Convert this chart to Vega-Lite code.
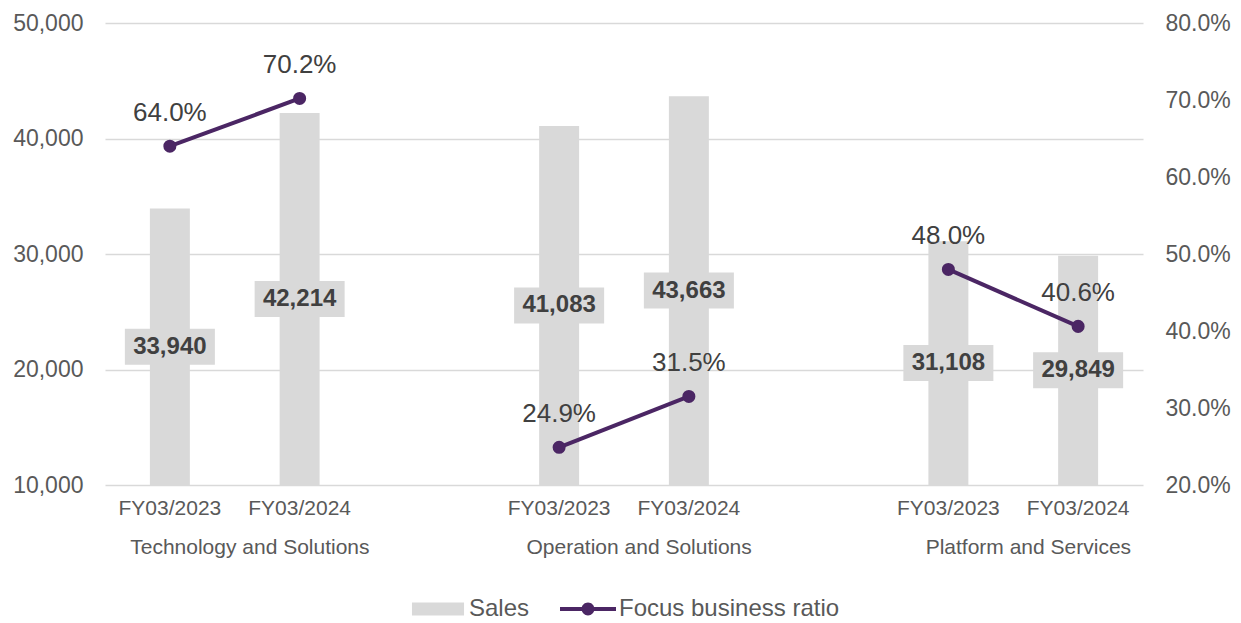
{
  "$schema": "https://vega.github.io/schema/vega-lite/v6.json",
  "width": 1038,
  "height": 462,
  "autosize": "none",
  "padding": {"left": 105, "top": 23, "right": 98, "bottom": 138},
  "background": "white",
  "config": {"view": {"stroke": null}, "font": "Liberation Sans"},
  "data": {
    "values": [
      {"segment": "Technology and Solutions", "year": "FY03/2023", "sales": 33940, "ratio": 0.640},
      {"segment": "Technology and Solutions", "year": "FY03/2024", "sales": 42214, "ratio": 0.702},
      {"segment": "Operation and Solutions", "year": "FY03/2023", "sales": 41083, "ratio": 0.249},
      {"segment": "Operation and Solutions", "year": "FY03/2024", "sales": 43663, "ratio": 0.315},
      {"segment": "Platform and Services", "year": "FY03/2023", "sales": 31108, "ratio": 0.480},
      {"segment": "Platform and Services", "year": "FY03/2024", "sales": 29849, "ratio": 0.406}
    ]
  },
  "transform": [
    {"calculate": "datum.segment + '|' + datum.year", "as": "slot"},
    {"calculate": "(datum.sales + 10000) / 2", "as": "mid"}
  ],
  "encoding": {
    "x": {
      "field": "slot",
      "type": "nominal",
      "sort": null,
      "scale": {
        "domain": [
          "Technology and Solutions|FY03/2023",
          "Technology and Solutions|FY03/2024",
          "gap1",
          "Operation and Solutions|FY03/2023",
          "Operation and Solutions|FY03/2024",
          "gap2",
          "Platform and Services|FY03/2023",
          "Platform and Services|FY03/2024"
        ],
        "paddingInner": 0.692,
        "paddingOuter": 0.346
      },
      "axis": {
        "title": null,
        "labelAngle": 0,
        "labelExpr": "indexof(datum.value, '|') >= 0 ? split(datum.value, '|')[1] : ''",
        "labelFontSize": 21,
        "labelColor": "#595959",
        "labelFont": "Liberation Sans",
        "labelPadding": 12,
        "ticks": false,
        "domain": false,
        "grid": false
      }
    }
  },
  "layer": [
    {
      "layer": [
        {
          "mark": {"type": "bar"},
          "encoding": {
            "y": {
              "field": "sales",
              "type": "quantitative",
              "scale": {"domain": [10000, 50000], "zero": false, "nice": false},
              "axis": {
                "title": null,
                "values": [10000, 20000, 30000, 40000, 50000],
                "labelExpr": "format(datum.value, ',d')",
                "grid": true,
                "gridColor": "#d9d9d9",
                "gridWidth": 1.5,
                "ticks": false,
                "domain": false,
                "labelFontSize": 23,
                "labelColor": "#595959",
                "labelFont": "Liberation Sans",
                "labelPadding": 22
              }
            },
            "y2": {"datum": 10000},
            "color": {
              "datum": "Sales",
              "scale": {"domain": ["Sales", "Focus business ratio"], "range": ["#d9d9d9", "#4b2664"]},
              "legend": {
                "title": null,
                "orient": "none",
                "direction": "horizontal",
                "legendX": 305,
                "legendY": 558,
                "symbolSize": 3136,
                "labelFontSize": 24,
                "labelColor": "#595959",
                "labelFont": "Liberation Sans",
                "labelOffset": 3,
                "labelLimit": 500,
                "columnPadding": 30,
                "encode": {
                  "symbols": {
                    "update": {
                      "shape": {"signal": "datum.value === 'Sales' ? 'M-0.93,-0.23H0.93V0.23H-0.93Z' : 'M-1,-0.07H1V0.07H-1Z M-0.23,0A0.23,0.23 0 1,1 0.23,0A0.23,0.23 0 1,1 -0.23,0Z'"},
                      "fill": {"signal": "datum.value === 'Sales' ? '#d9d9d9' : '#4b2664'"},
                      "stroke": {"value": "transparent"},
                      "strokeWidth": {"value": 0},
                      "opacity": {"value": 1},
                      "fillOpacity": {"value": 1}
                    }
                  }
                }
              }
            }
          }
        },
        {
          "mark": {"type": "point", "shape": "M-1,-0.4H1V0.4H-1Z", "size": 8100, "filled": true, "color": "#d9d9d9", "opacity": 1, "strokeWidth": 0},
          "encoding": {
            "y": {"field": "mid", "type": "quantitative"}
          }
        },
        {
          "mark": {"type": "text", "fontSize": 24, "fontWeight": "bold", "color": "#404040", "font": "Liberation Sans", "baseline": "middle"},
          "encoding": {
            "y": {"field": "mid", "type": "quantitative"},
            "text": {"field": "sales", "type": "quantitative", "format": ","}
          }
        },
        {
          "transform": [{"filter": "datum.year === 'FY03/2023'"}],
          "mark": {"type": "text", "fontSize": 21, "color": "#595959", "font": "Liberation Sans", "baseline": "middle", "dx": 80, "dy": 63},
          "encoding": {
            "y": {"datum": 10000},
            "text": {"field": "segment", "type": "nominal"}
          }
        }
      ]
    },
    {
      "layer": [
        {
          "mark": {"type": "line", "strokeWidth": 4},
          "encoding": {
            "y": {
              "field": "ratio",
              "type": "quantitative",
              "scale": {"domain": [0.2, 0.8], "zero": false, "nice": false},
              "axis": {
                "title": null,
                "orient": "right",
                "values": [0.2, 0.3, 0.4, 0.5, 0.6, 0.7, 0.8],
                "format": ".1%",
                "grid": false,
                "ticks": false,
                "domain": false,
                "labelFontSize": 23,
                "labelColor": "#595959",
                "labelFont": "Liberation Sans",
                "labelPadding": 22
              }
            },
            "color": {"datum": "Focus business ratio"},
            "detail": {"field": "segment", "type": "nominal"}
          }
        },
        {
          "mark": {"type": "point", "filled": true, "size": 170, "opacity": 1},
          "encoding": {
            "y": {"field": "ratio", "type": "quantitative"},
            "color": {"datum": "Focus business ratio"}
          }
        },
        {
          "mark": {"type": "text", "fontSize": 26, "color": "#404040", "font": "Liberation Sans", "baseline": "middle", "dy": -33},
          "encoding": {
            "y": {"field": "ratio", "type": "quantitative"},
            "text": {"field": "ratio", "type": "quantitative", "format": ".1%"}
          }
        }
      ]
    }
  ],
  "resolve": {"scale": {"y": "independent"}}
}
